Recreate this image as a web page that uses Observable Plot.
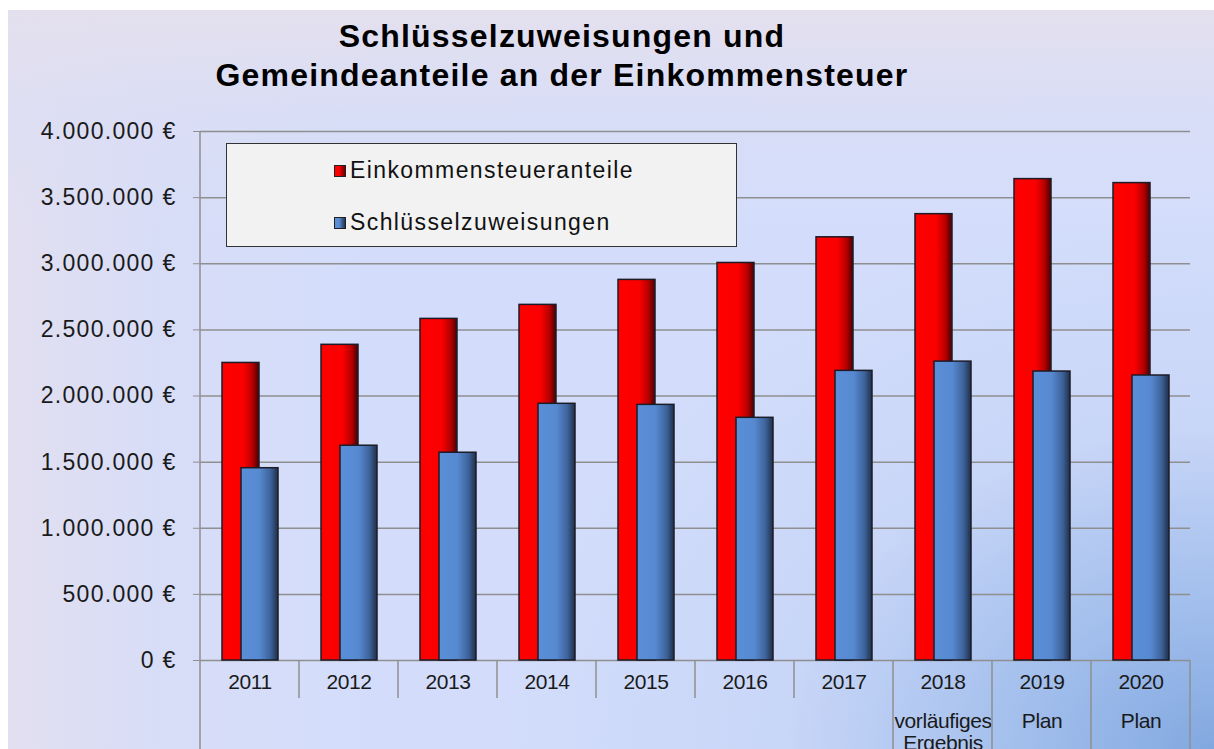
<!DOCTYPE html>
<html>
<head>
<meta charset="utf-8">
<script src="https://cdn.jsdelivr.net/npm/d3@7"></script>
<script src="https://cdn.jsdelivr.net/npm/@observablehq/plot@0.6"></script>
<style>
  html, body { margin: 0; padding: 0; background: #ffffff; width: 1214px; height: 749px; overflow: hidden; }
  #bg {
    position: absolute; left: 8px; top: 10px; width: 1206px; height: 739px;
    background:
      radial-gradient(ellipse 720px 540px at 100% 100%, rgba(130,168,224,1) 0%, rgba(158,188,235,0.9) 28%, rgba(190,207,244,0.5) 60%, rgba(212,221,251,0) 100%),
      linear-gradient(to bottom, rgba(228,224,238,1) 0%, rgba(220,222,244,0.6) 14%, rgba(212,221,251,0) 30%),
      linear-gradient(to right, #e2dff0 0%, #d8ddf7 12%, #d3ddfb 30%, #d3ddfb 100%);
  }
  #title {
    position: absolute; left: 0; top: 17px; width: 1124px; text-align: center;
    font-family: "Liberation Sans", Arial, sans-serif; font-weight: bold; font-size: 32px;
    line-height: 39px; letter-spacing: 1.2px; color: #000;
  }
  #chart { position: absolute; left: 0; top: 110px; }
  #legend {
    position: absolute; left: 226px; top: 143px; width: 509px; height: 102px;
    background: #f2f2f2; border: 1.5px solid #333;
    font-family: "Liberation Sans", Arial, sans-serif; font-size: 23px; letter-spacing: 1.4px; color: #111;
  }
  .item { position: absolute; left: 107px; height: 26px; line-height: 26px; white-space: nowrap; }
  .sw { display: inline-block; width: 10px; height: 10px; border: 1px solid #222; margin-right: 4px; vertical-align: 1px; }
</style>
</head>
<body>
<div id="bg"></div>
<div id="title">Schlüsselzuweisungen und<br>Gemeindeanteile an der Einkommensteuer</div>
<div id="chart"></div>
<div id="legend"></div>
<script>
// ---- data ----
const years = ["2011", "2012", "2013", "2014", "2015", "2016", "2017", "2018", "2019", "2020"];
const subLabels = ["", "", "", "", "", "", "", "vorläufiges\nErgebnis", "Plan", "Plan"];
const einkommensteueranteile = [2250000, 2387000, 2583000, 2689000, 2878000, 3006000, 3200000, 3375000, 3640000, 3610000];
const schluesselzuweisungen = [1454000, 1624000, 1571000, 1941000, 1933000, 1835000, 2190000, 2260000, 2185000, 2155000];
const yTicks = [0, 500000, 1000000, 1500000, 2000000, 2500000, 3000000, 3500000, 4000000];
const seriesNames = ["Einkommensteueranteile", "Schlüsselzuweisungen"];

const rows = years.map((y, i) => ({
  year: y, sub: subLabels[i], ek: einkommensteueranteile[i], sz: schluesselzuweisungen[i]
}));

const fmt = d => d3.format(",")(d).replace(/,/g, ".") + " €";

const chart = Plot.plot({
  width: 1214, height: 639,
  marginTop: 21, marginBottom: 89, marginLeft: 200, marginRight: 24,
  style: { background: "transparent", fontFamily: "'Liberation Sans', Arial, sans-serif", overflow: "visible", color: "#1a1a1a" },
  x: { domain: years, padding: 0, label: null },
  y: { domain: [0, 4000000], label: null },
  marks: [
    Plot.gridY(yTicks, { stroke: "#8f8f8f", strokeOpacity: 1, strokeWidth: 1.5 }),
    Plot.axisY(yTicks, { tickSize: 7, tickPadding: 17, tickFormat: fmt, fontSize: 23, stroke: "#8f8f8f", label: null }),
    Plot.axisX({ tickSize: 0, tickPadding: 14, fontSize: 21, label: null }),
    Plot.barY(rows, { x: "year", y: "ek", fill: "url(#gradRed)", stroke: "#1c1c28", strokeWidth: 1.5, insetLeft: 22, insetRight: 40 }),
    Plot.barY(rows, { x: "year", y: "sz", fill: "url(#gradBlue)", stroke: "#1c1c28", strokeWidth: 1.5, insetLeft: 41, insetRight: 21 }),
    Plot.text(rows, { x: "year", text: "sub", frameAnchor: "bottom", dy: 51, lineAnchor: "top", fontSize: 21, lineHeight: 1.08, fill: "#1a1a1a" })
  ]
});

const svg = d3.select(chart);
const defs = svg.insert("defs", ":first-child");
function grad(id, stops) {
  const g = defs.append("linearGradient").attr("id", id).attr("x1", "0").attr("x2", "1").attr("y1", "0").attr("y2", "0");
  stops.forEach(([o, c]) => g.append("stop").attr("offset", o).attr("stop-color", c));
}
grad("gradRed", [[0, "#ff0000"], [0.58, "#fa0000"], [0.82, "#b80000"], [1, "#4a0000"]]);
grad("gradBlue", [[0, "#5a8fd8"], [0.5, "#5689d0"], [0.8, "#3d629a"], [1, "#1f2f48"]]);

// axis text styling
svg.selectAll("g[aria-label='y-axis tick label'] text").style("letter-spacing", "1.3px").attr("fill", "#1a1a1a");
svg.selectAll("g[aria-label='x-axis tick label'] text").style("letter-spacing", "-0.4px").attr("fill", "#1a1a1a");
svg.selectAll("g[aria-label='text'] text").style("letter-spacing", "-0.4px");

// category table lines (from Plot's own scales)
const xs = chart.scale("x");
const ys = chart.scale("y");
const bw = xs.bandwidth;
const y0 = ys.apply(0), yTop = ys.apply(4000000), yBottom = 639;
const lines = svg.append("g").attr("stroke", "#8f8f8f").attr("stroke-width", 1.5);
lines.append("line").attr("x1", xs.apply(years[0])).attr("x2", xs.apply(years[0])).attr("y1", yTop).attr("y2", yBottom);
years.forEach((yr, i) => {
  if (i === 0) return;
  const full = subLabels[i] !== "" || subLabels[i - 1] !== "";
  const x = xs.apply(yr);
  lines.append("line").attr("x1", x).attr("x2", x).attr("y1", y0).attr("y2", full ? yBottom : y0 + 38);
});
const xr = xs.apply(years[years.length - 1]) + bw;
lines.append("line").attr("x1", xr).attr("x2", xr).attr("y1", y0).attr("y2", yBottom);

document.getElementById("chart").appendChild(chart);

// legend
const legend = document.getElementById("legend");
const swatches = ["linear-gradient(to right, #ff0000 40%, #700000)", "linear-gradient(to right, #5a8fd8 40%, #22344f)"];
const tops = [13, 65];
seriesNames.forEach((n, i) => {
  const d = document.createElement("div");
  d.className = "item";
  d.style.top = tops[i] + "px";
  d.innerHTML = `<span class="sw" style="background:${swatches[i]}"></span>${n}`;
  legend.appendChild(d);
});
</script>
</body>
</html>
